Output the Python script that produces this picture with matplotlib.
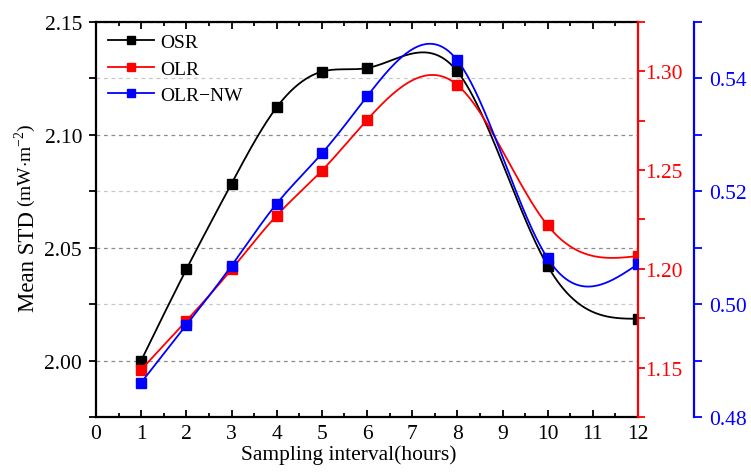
import numpy as np
import matplotlib
matplotlib.use("Agg")
import matplotlib.pyplot as plt
from matplotlib.lines import Line2D
from matplotlib.ticker import MultipleLocator, FormatStrFormatter

plt.rcParams['font.family'] = ['Liberation Serif', 'DejaVu Serif']
plt.rcParams['mathtext.fontset'] = 'custom'
plt.rcParams['mathtext.rm'] = 'Liberation Serif'

# data
hours = [1, 2, 3, 4, 5, 6, 8, 10, 12]
osr = [2.000, 2.0404, 2.0784, 2.1122, 2.1280, 2.1296, 2.1281, 2.0419, 2.0185]
olr = [1.149, 1.1737, 1.1997, 1.2270, 1.2497, 1.2754, 1.2931, 1.2220, 1.2065]
olr_nw = [0.4861, 0.4963, 0.5068, 0.5178, 0.5267, 0.5368, 0.5432, 0.5081, 0.5071]


def natural_spline(xs, ys, num=400):
    # smooth curve through the points, like Origin's spline connector
    xs = np.asarray(xs, float)
    ys = np.asarray(ys, float)
    n = len(xs)
    h = np.diff(xs)
    A = np.zeros((n, n))
    b = np.zeros(n)
    A[0, 0] = A[-1, -1] = 1
    for i in range(1, n - 1):
        A[i, i - 1] = h[i - 1]
        A[i, i] = 2 * (h[i - 1] + h[i])
        A[i, i + 1] = h[i]
        b[i] = 6 * ((ys[i + 1] - ys[i]) / h[i] - (ys[i] - ys[i - 1]) / h[i - 1])
    M = np.linalg.solve(A, b)
    xx = np.linspace(xs[0], xs[-1], num)
    idx = np.clip(np.searchsorted(xs, xx) - 1, 0, n - 2)
    x0, x1 = xs[idx], xs[idx + 1]
    hh = x1 - x0
    a, c = x1 - xx, xx - x0
    yy = ((M[idx] * a ** 3 + M[idx + 1] * c ** 3) / (6 * hh)
          + (ys[idx] / hh - M[idx] * hh / 6) * a
          + (ys[idx + 1] / hh - M[idx + 1] * hh / 6) * c)
    return xx, yy


fig = plt.figure(figsize=(7.51, 4.77), dpi=100)
ax = fig.add_axes([96 / 751, 59 / 477, 542 / 751, 395 / 477])
ax2 = ax.twinx()
ax3 = ax.twinx()

ax.set_xlim(0, 12)
ax.set_ylim(1.975, 2.15)
ax2.set_ylim(1.125, 1.325)
ax3.set_ylim(0.48, 0.55)

lw = 1.3
ms = 6.5
series = [(ax, osr, 'black', 'OSR'), (ax2, olr, 'red', 'OLR'), (ax3, olr_nw, 'blue', 'OLR\u2212NW')]
handles = []
for a, vals, c, name in series:
    xx, yy = natural_spline(hours, vals)
    a.plot(xx, yy, color=c, lw=lw)
    a.plot(hours, vals, 's', color=c, ms=ms, mec=c)
    handles.append(Line2D([], [], color=c, lw=lw, marker='s', ms=6, label=name))

# left axis
ax.xaxis.set_major_locator(MultipleLocator(1))
ax.xaxis.set_minor_locator(MultipleLocator(0.5))
ax.yaxis.set_major_locator(MultipleLocator(0.05))
ax.yaxis.set_minor_locator(MultipleLocator(0.025))
ax.yaxis.set_major_formatter(FormatStrFormatter('%.2f'))
ax.tick_params(axis='x', which='both', direction='in', top=True, labelsize=15.5, pad=5)
ax.tick_params(axis='x', which='major', length=5, width=1.3)
ax.tick_params(axis='x', which='minor', length=3, width=1.3)
ax.tick_params(axis='y', which='both', direction='out', right=False, length=5, width=1.3, labelsize=15.5, pad=5)
ax.grid(axis='y', which='major', color='#8c8c8c', ls=(0, (3, 3)), lw=0.9)
ax.grid(axis='y', which='minor', color='#c8c8c8', ls=(0, (3, 3)), lw=0.9)
for s in ['left', 'top', 'bottom']:
    ax.spines[s].set_linewidth(1.6)
ax.spines['right'].set_visible(False)
ax.set_xlabel('Sampling interval(hours)', fontsize=15.5)
ax.xaxis.set_label_coords((349 - 96) / 542, -0.068)

# ylabel with smaller unit part
t1 = fig.text(28 / 751, (477 - 312) / 477, 'Mean STD', rotation=90, fontsize=16.5,
              ha='center', va='bottom')
ax.annotate(r'(mW$\cdot$m$^{-2}$)', xy=(1, 1), xycoords=t1, xytext=(0, 3),
            textcoords='offset points', rotation=90, fontsize=14, ha='right', va='bottom')

# red axis
ax2.yaxis.set_major_locator(MultipleLocator(0.05))
ax2.yaxis.set_minor_locator(MultipleLocator(0.025))
ax2.yaxis.set_major_formatter(FormatStrFormatter('%.2f'))
ax2.tick_params(axis='y', which='both', direction='out', colors='red', length=5, width=1.3,
                labelsize=15.5, pad=0.5)
ax2.spines['right'].set_color('red')
ax2.spines['right'].set_linewidth(1.6)
for s in ['left', 'top', 'bottom']:
    ax2.spines[s].set_visible(False)

# blue axis
ax3.yaxis.set_major_locator(MultipleLocator(0.02))
ax3.yaxis.set_minor_locator(MultipleLocator(0.01))
ax3.yaxis.set_major_formatter(FormatStrFormatter('%.2f'))
ax3.spines['right'].set_position(('axes', 1.103))
ax3.spines['right'].set_color('blue')
ax3.spines['right'].set_linewidth(1.6)
for s in ['left', 'top', 'bottom']:
    ax3.spines[s].set_visible(False)
ax3.tick_params(axis='y', which='both', direction='out', colors='blue', length=6, width=1.3,
                labelsize=15.5, pad=5)

ax3.legend(handles=handles, loc='upper left', frameon=False, fontsize=14,
           handlelength=2.4, handletextpad=0.3, labelspacing=0.45,
           borderpad=0.3, borderaxespad=0.3)

fig.savefig('out.png', dpi=100)
